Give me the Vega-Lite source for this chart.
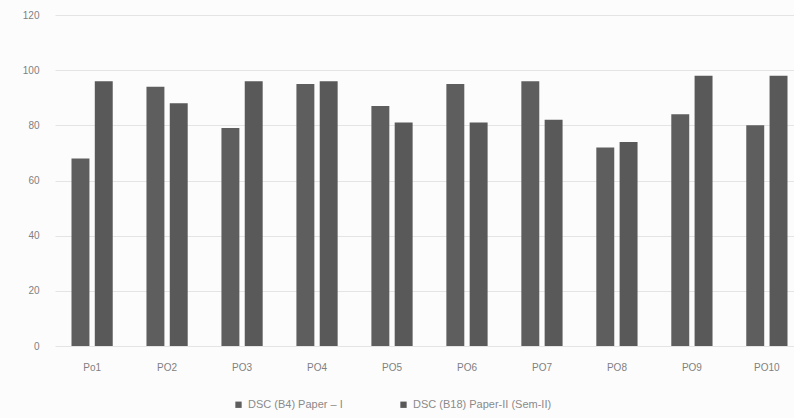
{
  "$schema": "https://vega.github.io/schema/vega-lite/v6.json",
  "autosize": {"type": "none"},
  "width": 749,
  "height": 331,
  "padding": {"left": 55, "top": 15, "right": 0, "bottom": 72},
  "background": "#fdfcfd",
  "config": {"view": {"stroke": null}, "font": "Liberation Sans"},
  "data": {
    "values": [
      {"po": "Po1", "series": "DSC (B4) Paper – I", "value": 68},
      {"po": "Po1", "series": "DSC (B18) Paper-II (Sem-II)", "value": 96},
      {"po": "PO2", "series": "DSC (B4) Paper – I", "value": 94},
      {"po": "PO2", "series": "DSC (B18) Paper-II (Sem-II)", "value": 88},
      {"po": "PO3", "series": "DSC (B4) Paper – I", "value": 79},
      {"po": "PO3", "series": "DSC (B18) Paper-II (Sem-II)", "value": 96},
      {"po": "PO4", "series": "DSC (B4) Paper – I", "value": 95},
      {"po": "PO4", "series": "DSC (B18) Paper-II (Sem-II)", "value": 96},
      {"po": "PO5", "series": "DSC (B4) Paper – I", "value": 87},
      {"po": "PO5", "series": "DSC (B18) Paper-II (Sem-II)", "value": 81},
      {"po": "PO6", "series": "DSC (B4) Paper – I", "value": 95},
      {"po": "PO6", "series": "DSC (B18) Paper-II (Sem-II)", "value": 81},
      {"po": "PO7", "series": "DSC (B4) Paper – I", "value": 96},
      {"po": "PO7", "series": "DSC (B18) Paper-II (Sem-II)", "value": 82},
      {"po": "PO8", "series": "DSC (B4) Paper – I", "value": 72},
      {"po": "PO8", "series": "DSC (B18) Paper-II (Sem-II)", "value": 74},
      {"po": "PO9", "series": "DSC (B4) Paper – I", "value": 84},
      {"po": "PO9", "series": "DSC (B18) Paper-II (Sem-II)", "value": 98},
      {"po": "PO10", "series": "DSC (B4) Paper – I", "value": 80},
      {"po": "PO10", "series": "DSC (B18) Paper-II (Sem-II)", "value": 98}
    ]
  },
  "mark": {"type": "bar"},
  "encoding": {
    "x": {
      "field": "po", "type": "nominal", "sort": null,
      "scale": {"paddingInner": 0.45, "paddingOuter": 0.22},
      "axis": {"title": null, "labelAngle": 0, "domain": false, "ticks": false, "labelPadding": 16, "labelColor": "#808080", "labelFontSize": 10}
    },
    "xOffset": {
      "field": "series", "type": "nominal", "sort": null,
      "scale": {"paddingInner": 0.23}
    },
    "y": {
      "field": "value", "type": "quantitative",
      "scale": {"domain": [0, 120]},
      "axis": {"title": null, "values": [0, 20, 40, 60, 80, 100, 120], "domain": false, "ticks": false, "labelPadding": 16, "labelColor": "#808080", "labelFontSize": 10, "gridColor": "#e4e4e4", "gridWidth": 1}
    },
    "color": {
      "field": "series", "type": "nominal", "sort": null,
      "scale": {"range": ["#5e5e5e", "#595959"]},
      "legend": {
        "title": null, "orient": "none", "direction": "horizontal",
        "legendX": 178, "legendY": 384,
        "symbolType": "square", "symbolSize": 40,
        "labelColor": "#8a8a8a", "labelFontSize": 11, "columnPadding": 55
      }
    }
  }
}
